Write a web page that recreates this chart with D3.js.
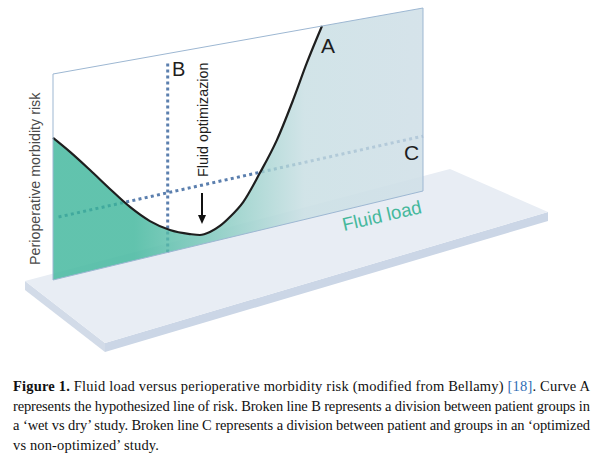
<!DOCTYPE html>
<html>
<head>
<meta charset="utf-8">
<script src="https://cdnjs.cloudflare.com/ajax/libs/d3/7.8.5/d3.min.js"></script>
<style>
  html, body { margin: 0; padding: 0; background: #fff; }
  svg { display: block; }
</style>
</head>
<body>
<div id="chart"></div>
<script>
// curve A: fluid load (0-100 along the plane) vs morbidity risk (0-100 up the plane)
var fluidLoad = [0, 4.6, 10, 15.4, 20.8, 26.2, 31.6, 37, 39.7, 42.4, 45.1, 47.8, 51.4, 55.9, 60.5, 64.9, 68.6, 72.7];
var riskA     = [69, 60.5, 49.6, 38.2, 27.1, 17.8, 11, 6.6, 4.9, 5.2, 7.1, 10.5, 16.6, 29.6, 44.8, 64, 82, 100];

// broken line B (wet vs dry) and C (optimized vs non-optimized)
var lineBLoad = [31, 31];
var lineBRisk = [0, 95];
var lineCLoad = [1.5, 100];
var lineCRisk = [30, 30];

var captionLines = [
  ["Figure 1.", " Fluid load versus perioperative morbidity risk (modified from Bellamy) ", "[18]", ". Curve A"],
  ["represents the hypothesized line of risk. Broken line B represents a division between patient groups in"],
  ["a \u2018wet vs dry\u2019 study. Broken line C represents a division between patient and groups in an \u2018optimized"],
  ["vs non-optimized\u2019 study."]
];

var W = 603, H = 458;
var svg = d3.select("#chart").append("svg").attr("width", W).attr("height", H);

// the tilted plane: x along load, bottom/top edges slant with load
var x = d3.scaleLinear().domain([0, 100]).range([53, 423]);
var yBottom = d3.scaleLinear().domain([0, 100]).range([280, 191]);
var yTop = d3.scaleLinear().domain([0, 100]).range([74, 8]);
function pt(load, risk) {
  var y = d3.scaleLinear().domain([0, 100]).range([yBottom(load), yTop(load)]);
  return [x(load), y(risk)];
}

var defs = svg.append("defs");
var grad = defs.append("linearGradient").attr("id", "fillGrad")
  .attr("gradientUnits", "userSpaceOnUse")
  .attr("x1", x(0)).attr("x2", x(100)).attr("y1", 0).attr("y2", 0);
grad.append("stop").attr("offset", 0).attr("stop-color", "#3ab499");
grad.append("stop").attr("offset", 0.22).attr("stop-color", "#3ab499");
grad.append("stop").attr("offset", 0.68).attr("stop-color", "#c6dde2");
grad.append("stop").attr("offset", 1).attr("stop-color", "#cbdce5");

// floor slab
var slab = { bl: [25, 281], br: [450, 169], fr: [548, 212], fl: [105, 343], t: 9 };
var floor = svg.append("g");
floor.append("path")
  .attr("d", "M" + slab.bl + "L" + slab.fl + "L" + [slab.fl[0], slab.fl[1] + slab.t] + "L" + [slab.bl[0], slab.bl[1] + slab.t] + "Z")
  .attr("fill", "#d2dbe8");
floor.append("path")
  .attr("d", "M" + slab.fl + "L" + slab.fr + "L" + [slab.fr[0], slab.fr[1] + slab.t] + "L" + [slab.fl[0], slab.fl[1] + slab.t] + "Z")
  .attr("fill", "#cbd6e6");
floor.append("path")
  .attr("d", "M" + slab.bl + "L" + slab.br + "L" + slab.fr + "L" + slab.fl + "Z")
  .attr("fill", "#e8edf4");

// plane base
var planePts = [pt(0, 0), pt(100, 0), pt(100, 100), pt(0, 100)];
svg.append("path")
  .attr("d", "M" + planePts.join("L") + "Z")
  .attr("fill", "#fff").attr("fill-opacity", 0.45);

// dotted lines
var dotted = d3.line();
svg.append("path")
  .attr("d", dotted(lineBLoad.map(function (l, i) { return pt(l, lineBRisk[i]); })))
  .attr("fill", "none").attr("stroke", "#5b7fae").attr("stroke-width", 3)
  .attr("stroke-dasharray", "3 3");
svg.append("path")
  .attr("d", dotted(lineCLoad.map(function (l, i) { return pt(l, lineCRisk[i]); })))
  .attr("fill", "none").attr("stroke", "#5b7fae").attr("stroke-width", 3)
  .attr("stroke-dasharray", "3 3.3");

// area under curve A
var curvePts = fluidLoad.map(function (l, i) { return pt(l, riskA[i]); });
var curveGen = d3.line().curve(d3.curveMonotoneX);
var curveD = curveGen(curvePts);
svg.append("path")
  .attr("d", curveD + "L" + pt(100, 100) + "L" + pt(100, 0) + "L" + pt(0, 0) + "Z")
  .attr("fill", "url(#fillGrad)").attr("fill-opacity", 0.8);

svg.append("path")
  .attr("d", curveD)
  .attr("fill", "none").attr("stroke", "#1e1e1e").attr("stroke-width", 2.2);

// plane outline
svg.append("path")
  .attr("d", "M" + planePts.join("L") + "Z")
  .attr("fill", "none").attr("stroke", "#9db7d2").attr("stroke-width", 1);

// labels
var sans = "'Liberation Sans', Arial, sans-serif";
svg.append("text").attr("x", 321).attr("y", 53).text("A")
  .attr("font-family", sans).attr("font-size", 21).attr("fill", "#1e1e1e");
svg.append("text").attr("x", 172).attr("y", 76).text("B")
  .attr("font-family", sans).attr("font-size", 20).attr("fill", "#1e1e1e");
svg.append("text").attr("x", 404).attr("y", 160).text("C")
  .attr("font-family", sans).attr("font-size", 21).attr("fill", "#1e1e1e");

svg.append("text")
  .attr("transform", "translate(207.5,177) rotate(-90)")
  .text("Fluid optimizazion")
  .attr("font-family", sans).attr("font-size", 14.3).attr("fill", "#1e1e1e");

svg.append("text")
  .attr("transform", "translate(39.5,265) rotate(-90)")
  .text("Perioperative morbidity risk")
  .attr("font-family", sans).attr("font-size", 14.3).attr("fill", "#4a4a4a");

svg.append("text")
  .attr("transform", "translate(344,231) rotate(-13)")
  .text("Fluid load")
  .attr("font-family", sans).attr("font-size", 18.6).attr("fill", "#45b89c");

// arrow
svg.append("line").attr("x1", 202).attr("x2", 202).attr("y1", 193).attr("y2", 219)
  .attr("stroke", "#111").attr("stroke-width", 2);
svg.append("path").attr("d", "M198,215L206,215L202,224Z").attr("fill", "#111");

// caption
var serif = "'Liberation Serif', 'Times New Roman', serif";
var capY = [391, 410.5, 430, 449.5];
captionLines.forEach(function (parts, i) {
  var t = svg.append("text").attr("x", 13).attr("y", capY[i])
    .attr("font-family", serif).attr("font-size", 14.5).attr("fill", "#111");
  parts.forEach(function (p, j) {
    var ts = t.append("tspan").text(p);
    if (i === 0 && j === 0) ts.attr("font-weight", "bold");
    if (p === "[18]") ts.attr("fill", "#2f6db5");
  });
  if (i < 3) {
    t.attr("textLength", 577).attr("lengthAdjust", "spacing");
  } else {
    // last line is not justified; widen it slightly to match the wider original face
    var n = t.text().length;
    var w = t.node().getComputedTextLength();
    t.attr("letter-spacing", Math.max(0, (146 - w) / n));
  }
});
</script>
</body>
</html>
